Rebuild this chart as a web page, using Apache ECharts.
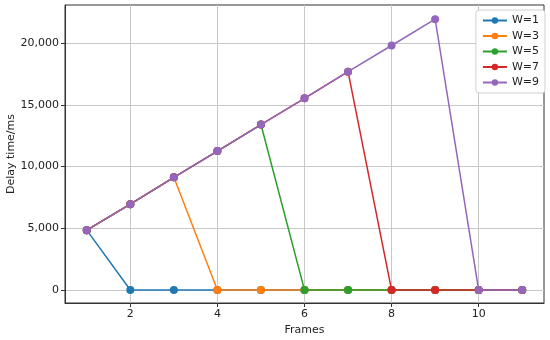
<!DOCTYPE html>
<html>
<head>
<meta charset="utf-8">
<script src="https://cdn.jsdelivr.net/npm/echarts@6/dist/echarts.min.js"></script>
<style>
  html, body { margin: 0; padding: 0; background: #fff; }
  #chart { width: 550px; height: 340px; }
</style>
</head>
<body>
<div id="chart"></div>
<script>
// frames 1..11
var frames = [1, 2, 3, 4, 5, 6, 7, 8, 9, 10, 11];
// delay (ms), per window size
var delayW1 = [4850, 0, 0, 0, 0, 0, 0, 0, 0, 0, 0];
var delayW3 = [4850, 6950, 9130, 0, 0, 0, 0, 0, 0, 0, 0];
var delayW5 = [4850, 6950, 9130, 11250, 13400, 0, 0, 0, 0, 0, 0];
var delayW7 = [4850, 6950, 9130, 11250, 13400, 15520, 17680, 0, 0, 0, 0];
var delayW9 = [4850, 6950, 9130, 11250, 13400, 15520, 17680, 19800, 21930, 0, 0];
var seriesNames = ['W=1', 'W=3', 'W=5', 'W=7', 'W=9'];
var xTicks = [2, 4, 6, 8, 10];
var yTicks = [0, 5000, 10000, 15000, 20000];

var colors = ['#1f77b4', '#ff7f0e', '#2ca02c', '#d62728', '#9467bd'];
var allData = [delayW1, delayW3, delayW5, delayW7, delayW9];

var font = 'DejaVu Sans';

function pairs(ys) {
  return frames.map(function (f, i) { return [f, ys[i]]; });
}

var series = allData.map(function (ys, i) {
  return {
    name: seriesNames[i],
    type: 'line',
    data: pairs(ys),
    symbol: 'circle',
    symbolSize: 8,
    showSymbol: true,
    lineStyle: { width: 1.5, color: colors[i] },
    itemStyle: { color: colors[i] },
    z: 2 + i,
    animation: false
  };
});

var chart = echarts.init(document.getElementById('chart'), null, { renderer: 'canvas' });
chart.setOption({
  animation: false,
  textStyle: { fontFamily: font },
  grid: {
    left: 65, right: 6, top: 5, bottom: 37,
    outerBoundsMode: 'none',
    show: true, borderColor: '#333', borderWidth: 1, backgroundColor: 'transparent'
  },
  legend: {
    orient: 'vertical',
    right: 5, top: 10,
    data: seriesNames,
    itemWidth: 24, itemHeight: 8, itemGap: 4.5,
    padding: [5, 6, 5, 6],
    borderColor: '#d0d0d0', borderWidth: 1, borderRadius: 3,
    backgroundColor: '#fff',
    textStyle: { fontFamily: font, fontSize: 11, color: '#222' }
  },
  xAxis: {
    type: 'value',
    min: 0.5, max: 11.5,
    name: 'Frames', nameLocation: 'middle', nameGap: 22,
    nameTextStyle: { fontFamily: font, fontSize: 11, color: '#222' },
    axisLine: { show: true, onZero: false, lineStyle: { color: '#333' } },
    axisTick: { show: true, length: 4, customValues: xTicks, lineStyle: { color: '#333' } },
    axisLabel: { customValues: xTicks, fontFamily: font, fontSize: 11, color: '#222', margin: 6 },
    splitLine: { show: true, lineStyle: { color: '#c8c8c8', width: 1 } }
  },
  yAxis: {
    type: 'value',
    min: -1050, max: 23080,
    name: 'Delay time/ms', nameLocation: 'middle', nameGap: 48,
    nameMoveOverlap: false,
    nameTextStyle: { fontFamily: font, fontSize: 11, color: '#222' },
    axisLine: { show: true, onZero: false, lineStyle: { color: '#333' } },
    axisTick: { show: true, length: 4, customValues: yTicks, lineStyle: { color: '#333' } },
    axisLabel: {
      customValues: yTicks, fontFamily: font, fontSize: 11, color: '#222', margin: 6,
      formatter: function (v) { return v.toLocaleString('en-US'); }
    },
    splitLine: { show: true, lineStyle: { color: '#c8c8c8', width: 1 } }
  },
  series: series
});
</script>
</body>
</html>
